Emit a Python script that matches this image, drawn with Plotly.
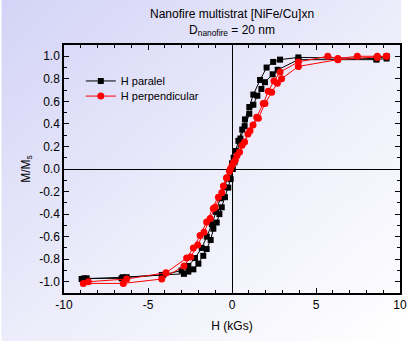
import base64
import plotly.graph_objects as go

# ---- data ----
par_desc_H = [9.2, 8.6, 3.95, 2.86, 2.45, 2.06, 1.67, 1.27, 1.03, 0.77, 0.61, 0.38, 0.22, 0.1, 0.0,
              -0.12, -0.25, -0.45, -0.7, -0.95, -1.2, -1.5, -1.8, -2.2, -2.6, -3.0, -4.1, -6.5, -8.8]
par_desc_M = [1.0, 0.98, 0.99, 0.97, 0.95, 0.90, 0.79, 0.66, 0.55, 0.44, 0.35, 0.25, 0.16, 0.10, 0.05,
              -0.02, -0.08, -0.16, -0.26, -0.38, -0.49, -0.60, -0.70, -0.79, -0.86, -0.90, -0.94, -0.96, -0.97]
par_asc_H = [-8.95, -8.65, -6.57, -6.27, -4.18, -2.86, -2.6, -2.3, -2.0, -1.71, -1.51, -1.27, -1.11,
             -0.91, -0.75, -0.61, -0.42, -0.22, -0.08, 0.05, 0.15, 0.3, 0.5, 0.75, 1.03, 1.27, 1.51,
             1.75, 1.96, 2.42, 2.72, 3.95, 8.6, 9.2]
par_asc_M = [-0.976, -0.97, -0.97, -0.96, -0.94, -0.93, -0.91, -0.89, -0.84, -0.77, -0.71, -0.63, -0.53,
             -0.475, -0.40, -0.34, -0.25, -0.165, -0.09, 0.0, 0.06, 0.15, 0.27, 0.38, 0.49, 0.57, 0.65,
             0.71, 0.77, 0.84, 0.88, 0.97, 0.97, 0.98]

perp_desc_H = [9.2, 8.65, 7.46, 6.3, 5.7, 3.95, 2.86, 2.5, 2.16, 1.86, 1.47, 1.07, 0.75, 0.45, 0.2, 0.0,
               -0.15, -0.32, -0.51, -0.81, -1.11, -1.51, -1.9, -2.3, -2.7, -3.93, -6.27, -8.55]
perp_desc_M = [1.0, 1.0, 1.0, 0.98, 1.0, 0.95, 0.86, 0.78, 0.69, 0.58, 0.46, 0.34, 0.24, 0.15, 0.08, 0.03,
               -0.02, -0.08, -0.15, -0.25, -0.35, -0.47, -0.59, -0.70, -0.79, -0.92, -0.976, -1.0]
perp_asc_H = [-8.85, -6.47, -4.18, -2.86, -2.46, -2.04, -1.67, -1.3, -1.01, -0.61, -0.32, -0.1, 0.1, 0.3,
              0.6, 0.95, 1.25, 1.57, 1.96, 2.36, 2.70, 2.95, 3.95, 6.3, 8.65, 9.2]
perp_asc_M = [-1.015, -1.015, -0.976, -0.86, -0.78, -0.675, -0.56, -0.44, -0.34, -0.21, -0.077, 0.0, 0.06,
              0.12, 0.21, 0.31, 0.39, 0.45, 0.58, 0.68, 0.76, 0.80, 0.91, 0.97, 0.99, 1.0]

series_names = ["H paralel", "H perpendicular"]
x_ticks = [-10, -5, 0, 5, 10]
y_ticks = [-1.0, -0.8, -0.6, -0.4, -0.2, 0.0, 0.2, 0.4, 0.6, 0.8, 1.0]

W, H = 408, 341
L, R, T, B = 64, 1, 45, 48
pw, ph = W - L - R, H - T - B

fig = go.Figure()
fig.add_trace(go.Scatter(
    x=par_desc_H + par_asc_H, y=par_desc_M + par_asc_M, mode="lines+markers",
    name=series_names[0], line=dict(color="black", width=1), legend="legend", showlegend=True,
    marker=dict(symbol="square", size=6, color="black")))
fig.add_trace(go.Scatter(
    x=perp_desc_H + perp_asc_H, y=perp_desc_M + perp_asc_M, mode="lines+markers",
    name=series_names[1], line=dict(color="red", width=1), legend="legend2", showlegend=True,
    marker=dict(symbol="circle", size=7, color="red")))

svg = (f'<svg xmlns="http://www.w3.org/2000/svg" width="{W}" height="{H}">'
       '<defs><linearGradient id="g" x1="0" y1="0" x2="1" y2="1">'
       '<stop offset="0" stop-color="#d3d3f7"/><stop offset="0.55" stop-color="#eeeefb"/>'
       '<stop offset="1" stop-color="#ffffff"/></linearGradient></defs>'
       f'<rect width="{W}" height="{H}" fill="url(#g)"/></svg>')
uri = "data:image/svg+xml;base64," + base64.b64encode(svg.encode()).decode()

axis_common = dict(showline=True, linecolor="black", linewidth=1.5, mirror="ticks",
                   ticks="inside", ticklen=5, tickwidth=1, tickcolor="black",
                   showgrid=False, zeroline=True, zerolinecolor="black", zerolinewidth=1.3,
                   ticklabeloverflow="allow",
                   tickfont=dict(family="Liberation Sans, Arial", size=12, color="black"))

leg_common = dict(xanchor="left", yanchor="middle", bgcolor="rgba(0,0,0,0)",
                  font=dict(size=11), itemwidth=30)

fig.update_layout(
    width=W, height=H, margin=dict(l=L, r=R, t=T, b=B), showlegend=True,
    paper_bgcolor="white", plot_bgcolor="rgba(0,0,0,0)",
    font=dict(family="Liberation Sans, Arial", size=12, color="black"),
    images=[dict(source=uri, xref="paper", yref="paper", x=-L / pw, y=1 + T / ph,
                 sizex=W / pw, sizey=H / ph, sizing="stretch", layer="below",
                 xanchor="left", yanchor="top")],
    xaxis=dict(range=[-10, 10], tickvals=x_ticks, ticktext=[str(v) for v in x_ticks],
               minor=dict(dtick=1, ticks="inside", ticklen=3, tickcolor="black"),
               title=dict(text="H (kGs)", standoff=10, font=dict(size=12)), **axis_common),
    yaxis=dict(range=[-1.1, 1.1], tickvals=y_ticks, ticktext=[f"{v:.1f}" for v in y_ticks],
               minor=dict(dtick=0.1, ticks="inside", ticklen=3, tickcolor="black"),
               title=dict(text="M/M<sub>s</sub>", standoff=6, font=dict(size=12)), **axis_common),
    legend=dict(x=0.05, y=0.855, **leg_common),
    legend2=dict(x=0.05, y=0.794, **leg_common),
    annotations=[dict(text="Nanofire multistrat [NiFe/Cu]xn<br>D<sub>nanofire</sub> = 20 nm",
                      xref="paper", yref="paper", x=0.5, y=1 + 5 / ph, xanchor="center",
                      yanchor="bottom", showarrow=False, font=dict(size=12))],
)
fig.write_html("out.html")
